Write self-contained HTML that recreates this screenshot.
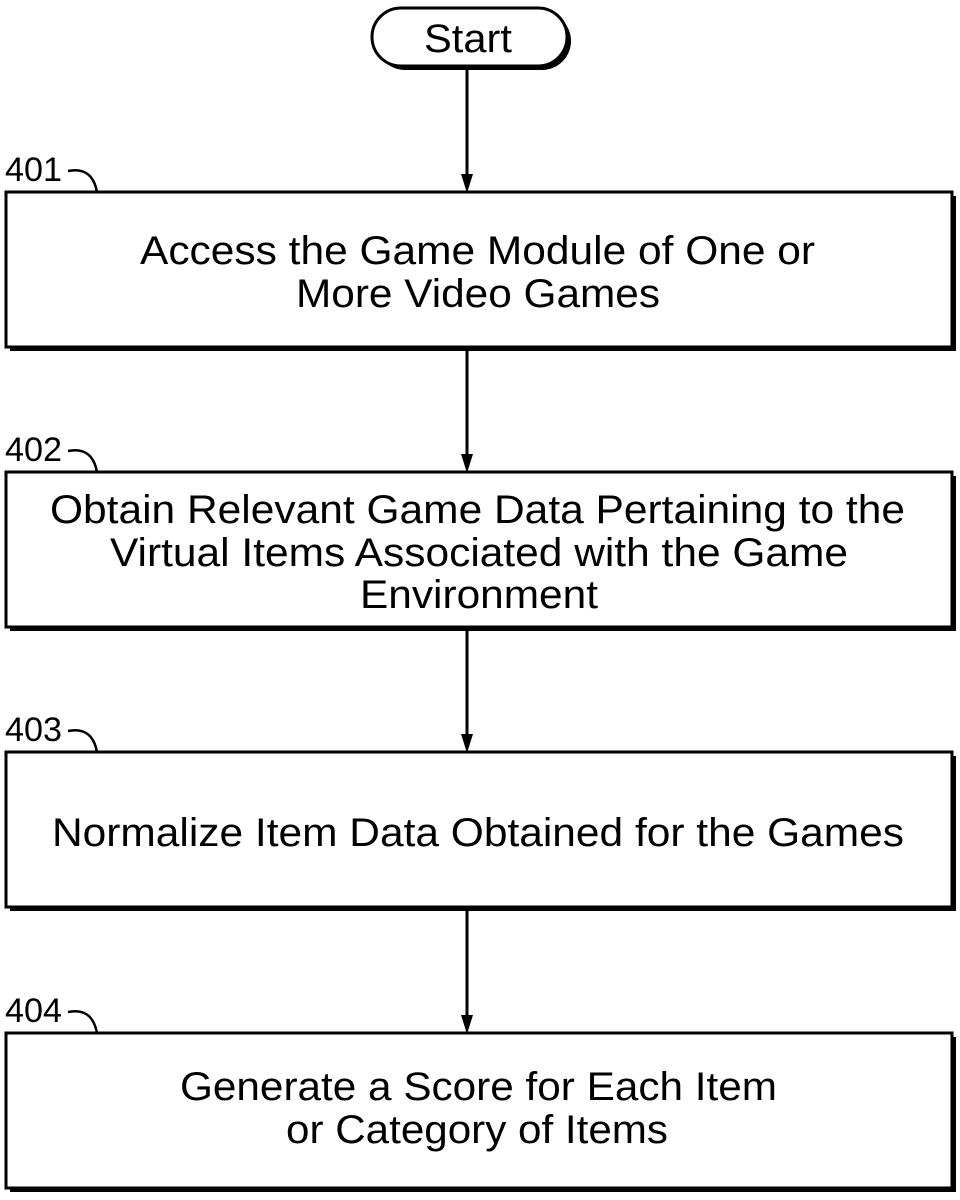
<!DOCTYPE html>
<html><head><style>
html,body{margin:0;padding:0;background:#fff;}
svg{display:block;}
text{font-family:"Liberation Sans",Arial,sans-serif;fill:#000;}
</style></head><body>
<svg width="960" height="1200" viewBox="0 0 960 1200" xmlns="http://www.w3.org/2000/svg">
<!-- Start pill -->
<rect x="376" y="12" width="195" height="58" rx="29" fill="#000"/>
<rect x="372" y="8" width="195" height="58" rx="29" fill="#fff" stroke="#000" stroke-width="3"/>
<text x="468" y="52" font-size="40" text-anchor="middle" textLength="88" lengthAdjust="spacingAndGlyphs">Start</text>

<!-- connectors -->
<g stroke="#000" stroke-width="3">
<line x1="467" y1="70" x2="467" y2="176"/>
<line x1="467" y1="351" x2="467" y2="456"/>
<line x1="467" y1="631" x2="467" y2="736"/>
<line x1="467" y1="911" x2="467" y2="1017"/>
</g>
<g fill="#000">
<path d="M461,174 L473,174 L467,193 Z"/>
<path d="M461,454 L473,454 L467,473 Z"/>
<path d="M461,734 L473,734 L467,753 Z"/>
<path d="M461,1015 L473,1015 L467,1034 Z"/>
</g>

<!-- boxes with shadow -->
<g>
<rect x="10" y="196" width="946" height="155" fill="#000"/>
<rect x="6" y="192" width="946" height="155" fill="#fff" stroke="#000" stroke-width="3"/>
<rect x="10" y="476" width="946" height="155" fill="#000"/>
<rect x="6" y="472" width="946" height="155" fill="#fff" stroke="#000" stroke-width="3"/>
<rect x="10" y="756" width="946" height="155" fill="#000"/>
<rect x="6" y="752" width="946" height="155" fill="#fff" stroke="#000" stroke-width="3"/>
<rect x="10" y="1037" width="946" height="155" fill="#000"/>
<rect x="6" y="1033" width="946" height="155" fill="#fff" stroke="#000" stroke-width="3"/>
</g>

<!-- labels and leaders -->
<g font-size="34">
<text x="5" y="181" textLength="57" lengthAdjust="spacingAndGlyphs">401</text>
<text x="5" y="461" textLength="57" lengthAdjust="spacingAndGlyphs">402</text>
<text x="5" y="741" textLength="57" lengthAdjust="spacingAndGlyphs">403</text>
<text x="5" y="1022" textLength="57" lengthAdjust="spacingAndGlyphs">404</text>
</g>
<g fill="none" stroke="#000" stroke-width="2.5">
<path d="M68,171 Q92,166 97,192"/>
<path d="M68,451 Q92,446 97,472"/>
<path d="M68,731 Q92,726 97,752"/>
<path d="M68,1012 Q92,1007 97,1033"/>
</g>

<!-- box texts -->
<g font-size="40">
<text x="140" y="264" textLength="675" lengthAdjust="spacingAndGlyphs">Access the Game Module of One or</text>
<text x="296" y="307" textLength="364" lengthAdjust="spacingAndGlyphs">More Video Games</text>
<text x="50" y="523" textLength="855" lengthAdjust="spacingAndGlyphs">Obtain Relevant Game Data Pertaining to the</text>
<text x="110" y="566" textLength="738" lengthAdjust="spacingAndGlyphs">Virtual Items Associated with the Game</text>
<text x="360" y="608" textLength="238" lengthAdjust="spacingAndGlyphs">Environment</text>
<text x="52" y="846" textLength="852" lengthAdjust="spacingAndGlyphs">Normalize Item Data Obtained for the Games</text>
<text x="180" y="1100" textLength="597" lengthAdjust="spacingAndGlyphs">Generate a Score for Each Item</text>
<text x="286" y="1143" textLength="382" lengthAdjust="spacingAndGlyphs">or Category of Items</text>
</g>
</svg>
</body></html>
